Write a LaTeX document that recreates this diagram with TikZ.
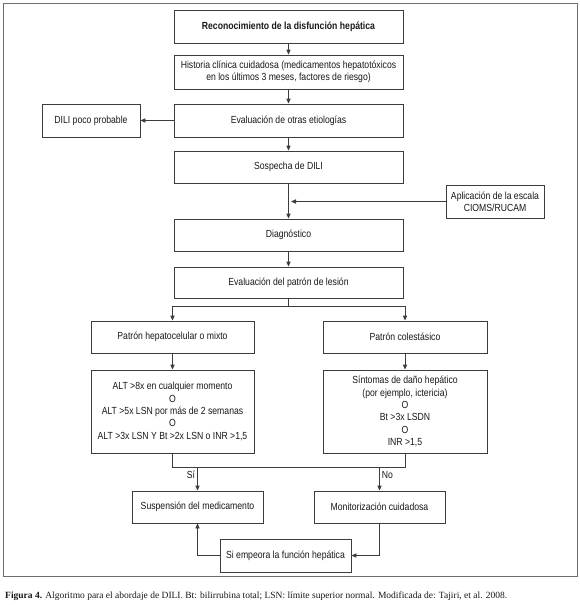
\documentclass[tikz,border=0pt]{standalone}
\usepackage{fontspec}
\setmainfont{Liberation Sans}[FakeStretch=0.84]
\newfontfamily\capfont{Liberation Serif}
\usetikzlibrary{arrows.meta}
\definecolor{linec}{RGB}{60,60,60}
\definecolor{framec}{RGB}{110,110,110}
\definecolor{textc}{RGB}{25,25,25}
\begin{document}
\begin{tikzpicture}[x=1pt,y=-1pt,
  box/.style={draw=linec, line width=0.9pt, fill=white, text=textc,
    font=\fontsize{10.3}{12.4}\selectfont, align=center, inner sep=0pt},
  conn/.style={draw=linec, line width=0.9pt},
  arr/.style={conn, -{Triangle[length=5pt,width=4.2pt]}},
  lbl/.style={text=textc, font=\fontsize{10.3}{11}\selectfont, inner sep=1pt}]
\fill[white] (0,0) rectangle (580,605);
\useasboundingbox (0,0) rectangle (580,605);
\draw[draw=framec, line width=1pt] (3,3) rectangle (577,576);

\node[box, minimum width=229pt, minimum height=33pt] (rec) at (288.5,26.5) {\textbf{Reconocimiento de la disfunción hepática}};
\node[box, minimum width=229pt, minimum height=34pt] (hist) at (288.5,72) {Historia clínica cuidadosa (medicamentos hepatotóxicos\\en los últimos 3 meses, factores de riesgo)};
\node[box, minimum width=229pt, minimum height=33pt] (eval) at (288.5,120.5) {Evaluación de otras etiologías};
\node[box, minimum width=98pt, minimum height=33pt] (dili) at (91,120.5) {DILI poco probable};
\node[box, minimum width=229pt, minimum height=32pt] (sosp) at (288.5,167) {Sospecha de DILI};
\node[box, minimum width=98pt, minimum height=33pt] (cioms) at (495,201.5) {Aplicación de la escala\\CIOMS/RUCAM};
\node[box, minimum width=229pt, minimum height=32pt] (diag) at (288.5,235) {Diagnóstico};
\node[box, minimum width=229pt, minimum height=31pt] (evalpat) at (288.5,282.5) {Evaluación del patrón de lesión};
\node[box, minimum width=163pt, minimum height=32pt] (pathep) at (172.5,337) {Patrón hepatocelular o mixto};
\node[box, minimum width=164pt, minimum height=32pt] (patcol) at (405,337) {Patrón colestásico};
\node[box, minimum width=163pt, minimum height=83pt] (alt) at (172.5,411.5) {ALT >8x en cualquier momento\\O\\ALT >5x LSN por más de 2 semanas\\O\\ALT >3x LSN Y Bt >2x LSN o INR >1,5};
\node[box, minimum width=164pt, minimum height=83pt] (sint) at (405,411.5) {Síntomas de daño hepático\\(por ejemplo, ictericia)\\O\\Bt >3x LSDN\\O\\INR >1,5};
\node[box, minimum width=131pt, minimum height=32pt] (susp) at (197.5,507) {Suspensión del medicamento};
\node[box, minimum width=131pt, minimum height=32pt] (monit) at (379.5,507) {Monitorización cuidadosa};
\node[box, minimum width=131pt, minimum height=33pt] (empeora) at (285.5,555.5) {Si empeora la función hepática};

\node[anchor=base west, text=textc, font=\capfont\fontsize{9.5}{11}\selectfont, inner sep=0pt] (cap) at (5,598)
  {\textbf{Figura 4.} Algoritmo para el abordaje de DILI. Bt: bilirrubina total; LSN: límite superior normal. Modificada de: Tajiri, et al. 2008.};

\draw[arr] (rec) -- (hist);
\draw[arr] (hist) -- (eval);
\draw[arr] (eval) -- (dili);
\draw[arr] (eval) -- (sosp);
\draw[arr] (sosp) -- (diag);
\coordinate (ciomsin) at (291,201.5);
\draw[arr] (cioms.west) -- (ciomsin);
\draw[arr] (diag) -- (evalpat);
\coordinate (split) at (288.5,306);
\draw[conn] (evalpat.south) -- (split);
\draw[arr] (split) -| (pathep.north);
\draw[arr] (split) -| (patcol.north);
\draw[arr] (pathep) -- (alt);
\draw[arr] (patcol) -- (sint);
\coordinate (mL) at (172.5,467);
\draw[conn] (alt.south) -- (mL) -| (sint.south);
\coordinate (siTop) at (susp.north |- mL);
\coordinate (noTop) at (monit.north |- mL);
\draw[arr] (siTop) -- node[lbl, pos=0.35, left=1pt] {Sí} (susp.north);
\draw[arr] (noTop) -- node[lbl, pos=0.35, right=1pt] {No} (monit.north);
\draw[arr] (monit.south) |- (empeora.east);
\draw[arr] (empeora.west) -| (susp.south);
\end{tikzpicture}
\end{document}
